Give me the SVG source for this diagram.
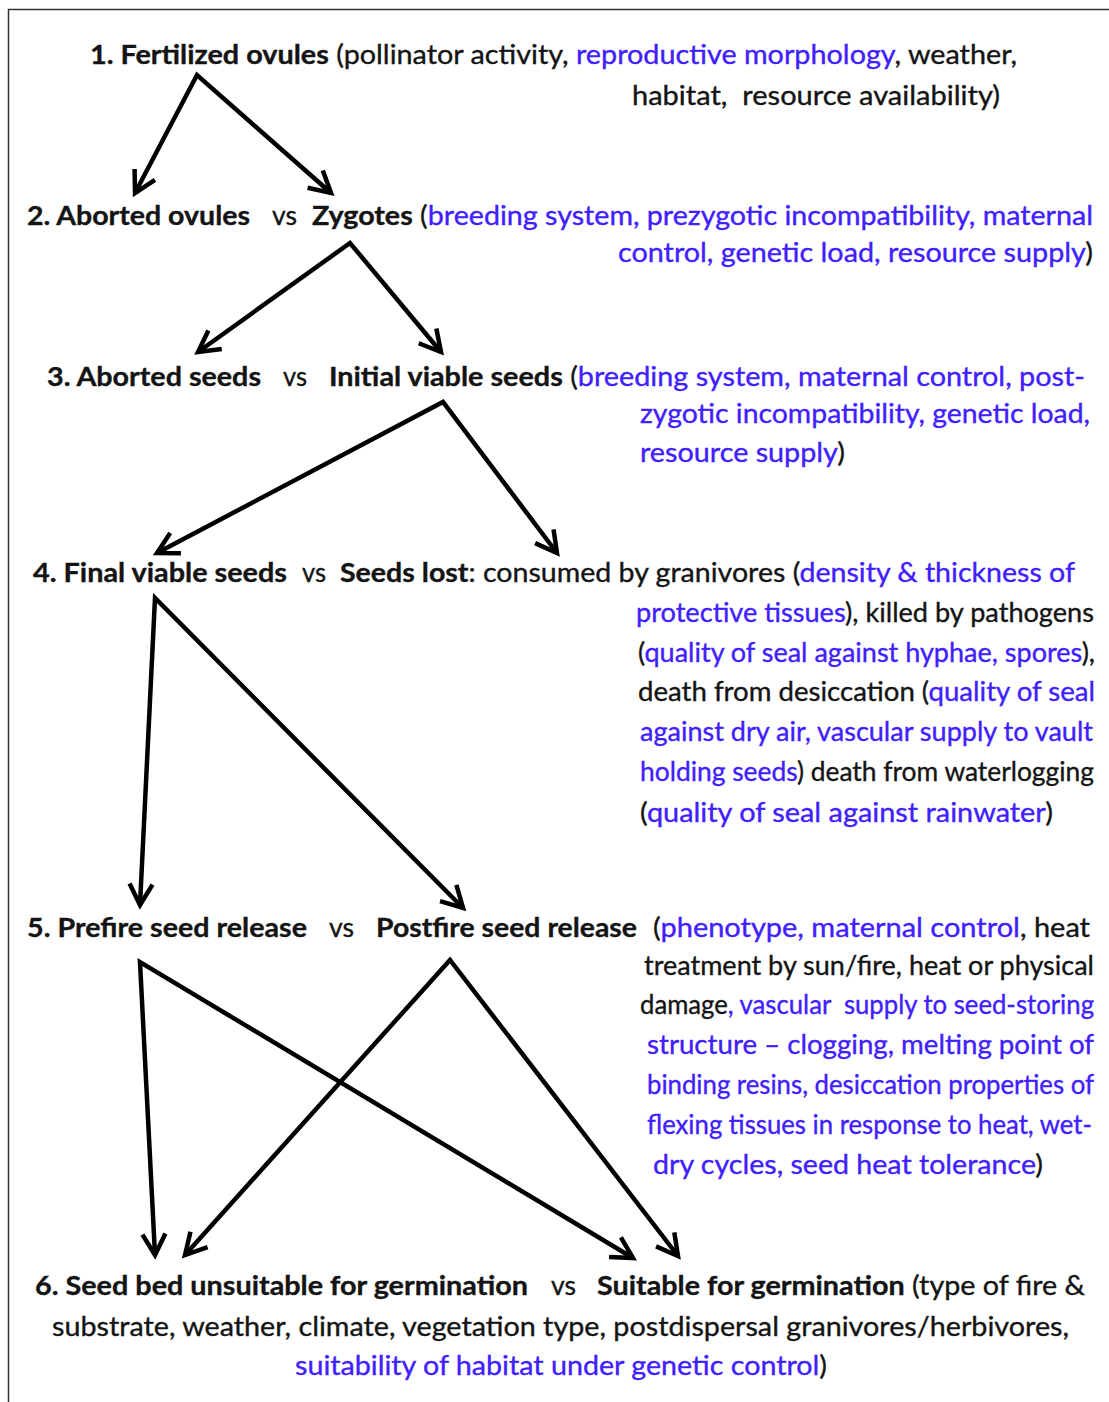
<svg xmlns="http://www.w3.org/2000/svg" width="1109" height="1402" viewBox="0 0 1109 1402">
<style>
text{font-family:Lato,"Open Sans","Liberation Sans",sans-serif;font-size:27px;fill:#141414;stroke:#141414;stroke-width:0.35;white-space:pre}
.b{font-weight:bold}
.bl{fill:#4020ff;stroke:#4020ff}
.sm{font-size:26px}
.arr{fill:none;stroke:#000;stroke-width:4.5;stroke-linejoin:miter;stroke-miterlimit:10}
</style>
<defs>
<marker id="ah" markerUnits="userSpaceOnUse" orient="auto-start-reverse" refX="0" refY="0" markerWidth="40" markerHeight="40" viewBox="-30 -20 40 40" overflow="visible">
<path d="M-21,-11.5 L0,0 L-21,11.5" fill="none" stroke="#000" stroke-width="4.5" stroke-linejoin="miter"/>
</marker>
</defs>
<rect width="1109" height="1402" fill="#fff"/>
<path d="M8.5,1402 V9.5 H1109" fill="none" stroke="#333" stroke-width="1.5"/>

<g id="connectors">
<path class="arr" d="M135,193 L197,75 L331,193" marker-start="url(#ah)" marker-end="url(#ah)"/>
<path class="arr" d="M198,352 L350,243 L441,352" marker-start="url(#ah)" marker-end="url(#ah)"/>
<path class="arr" d="M157,553 L443,402 L557,553" marker-start="url(#ah)" marker-end="url(#ah)"/>
<path class="arr" d="M140,905 L155,598 L463,908" marker-start="url(#ah)" marker-end="url(#ah)"/>
<path class="arr" d="M155,1255 L140,962 L633,1258" marker-start="url(#ah)" marker-end="url(#ah)"/>
<path class="arr" d="M185,1255 L450,960 L678,1256" marker-start="url(#ah)" marker-end="url(#ah)"/>
</g>

<g id="node-fertilized-ovules">
<text x="90" y="64" textLength="927" lengthAdjust="spacingAndGlyphs"><tspan class="b">1. Fertilized ovules</tspan> (pollinator activity, <tspan class="bl">reproductive morphology</tspan>, weather,</text>
<text x="632" y="105" textLength="368" lengthAdjust="spacingAndGlyphs">habitat,  resource availability)</text>
</g>

<g id="node-aborted-ovules">
<text class="b" x="27" y="225" textLength="223" lengthAdjust="spacingAndGlyphs">2. Aborted ovules</text>
</g>
<g id="vs-2"><text x="272" y="225" textLength="25" lengthAdjust="spacingAndGlyphs">vs</text></g>
<g id="node-zygotes">
<text x="312" y="225" textLength="781" lengthAdjust="spacingAndGlyphs"><tspan class="b">Zygotes</tspan> (<tspan class="bl">breeding system, prezygotic incompatibility, maternal</tspan></text>
<text x="618" y="262" textLength="475" lengthAdjust="spacingAndGlyphs"><tspan class="bl">control, genetic load, resource supply</tspan>)</text>
</g>

<g id="node-aborted-seeds">
<text class="b" x="47" y="386" textLength="214" lengthAdjust="spacingAndGlyphs">3. Aborted seeds</text>
</g>
<g id="vs-3"><text x="283" y="386" textLength="24" lengthAdjust="spacingAndGlyphs">vs</text></g>
<g id="node-initial-viable-seeds">
<text x="329" y="386" textLength="756" lengthAdjust="spacingAndGlyphs"><tspan class="b">Initial viable seeds</tspan> (<tspan class="bl">breeding system, maternal control, post-</tspan></text>
<text class="bl" x="640" y="423" textLength="450" lengthAdjust="spacingAndGlyphs">zygotic incompatibility, genetic load,</text>
<text x="640" y="462" textLength="205" lengthAdjust="spacingAndGlyphs"><tspan class="bl">resource supply</tspan>)</text>
</g>

<g id="node-final-viable-seeds">
<text class="b" x="33" y="582" textLength="254" lengthAdjust="spacingAndGlyphs">4. Final viable seeds</text>
</g>
<g id="vs-4"><text x="302" y="582" textLength="24" lengthAdjust="spacingAndGlyphs">vs</text></g>
<g id="node-seeds-lost">
<text x="340" y="582" textLength="735" lengthAdjust="spacingAndGlyphs"><tspan class="b">Seeds lost</tspan>: consumed by granivores (<tspan class="bl">density &amp; thickness of</tspan></text>
<text x="636" y="622" textLength="458" lengthAdjust="spacingAndGlyphs"><tspan class="bl">protective tissues</tspan>), killed by pathogens</text>
<text x="638" y="662" textLength="457" lengthAdjust="spacingAndGlyphs">(<tspan class="bl">quality of seal against hyphae, spores</tspan>),</text>
<text x="638" y="701" textLength="457" lengthAdjust="spacingAndGlyphs">death from desiccation (<tspan class="bl">quality of seal</tspan></text>
<text class="bl" x="640" y="741" textLength="453" lengthAdjust="spacingAndGlyphs">against dry air, vascular supply to vault</text>
<text x="640" y="781" textLength="454" lengthAdjust="spacingAndGlyphs"><tspan class="bl">holding seeds</tspan>) death from waterlogging</text>
<text x="640" y="822" textLength="413" lengthAdjust="spacingAndGlyphs">(<tspan class="bl">quality of seal against rainwater</tspan>)</text>
</g>

<g id="node-prefire">
<text class="b" x="27" y="937" textLength="280" lengthAdjust="spacingAndGlyphs">5. Prefire seed release</text>
</g>
<g id="vs-5"><text x="329" y="937" textLength="25" lengthAdjust="spacingAndGlyphs">vs</text></g>
<g id="node-postfire">
<text class="b" x="376" y="937" textLength="261" lengthAdjust="spacingAndGlyphs">Postfire seed release</text>
<text x="653" y="937" textLength="437" lengthAdjust="spacingAndGlyphs">(<tspan class="bl">phenotype, maternal control</tspan>, heat</text>
<text x="644" y="975" textLength="450" lengthAdjust="spacingAndGlyphs">treatment by sun/fire, heat or physical</text>
<text class="sm" x="640" y="1014" textLength="454" lengthAdjust="spacingAndGlyphs">damage<tspan class="bl">, vascular  supply to seed-storing</tspan></text>
<text class="bl" x="647" y="1054" textLength="447" lengthAdjust="spacingAndGlyphs">structure – clogging, melting point of</text>
<text class="bl sm" x="647" y="1094" textLength="447" lengthAdjust="spacingAndGlyphs">binding resins, desiccation properties of</text>
<text class="bl sm" x="647" y="1134" textLength="445" lengthAdjust="spacingAndGlyphs">flexing tissues in response to heat, wet-</text>
<text x="653" y="1174" textLength="390" lengthAdjust="spacingAndGlyphs"><tspan class="bl">dry cycles, seed heat tolerance</tspan>)</text>
</g>

<g id="node-unsuitable">
<text class="b" x="35" y="1295" textLength="493" lengthAdjust="spacingAndGlyphs">6. Seed bed unsuitable for germination</text>
</g>
<g id="vs-6"><text x="551" y="1295" textLength="25" lengthAdjust="spacingAndGlyphs">vs</text></g>
<g id="node-suitable">
<text x="597" y="1295" textLength="488" lengthAdjust="spacingAndGlyphs"><tspan class="b">Suitable for germination</tspan> (type of fire &amp;</text>
<text x="52" y="1336" textLength="1017" lengthAdjust="spacingAndGlyphs">substrate, weather, climate, vegetation type, postdispersal granivores/herbivores,</text>
<text x="295" y="1375" textLength="532" lengthAdjust="spacingAndGlyphs"><tspan class="bl">suitability of habitat under genetic control</tspan>)</text>
</g>
</svg>
